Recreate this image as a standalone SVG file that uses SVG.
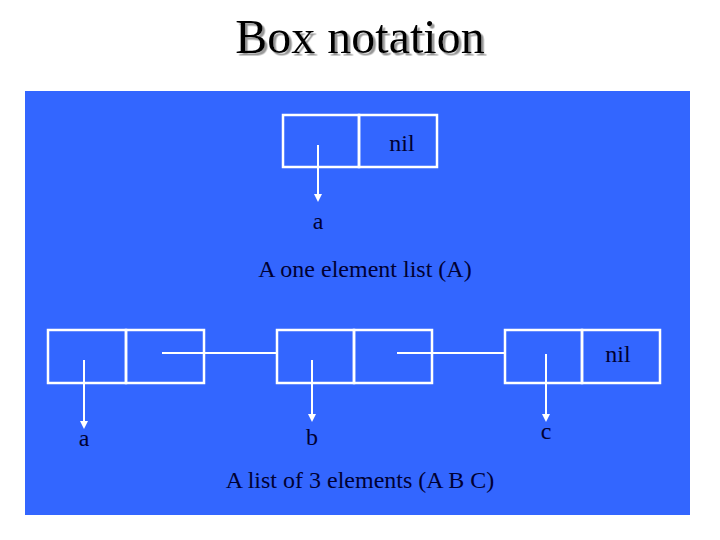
<svg xmlns="http://www.w3.org/2000/svg" width="720" height="540" viewBox="0 0 720 540">
<defs>
<style>
.cell{fill:none;stroke:#ffffff;stroke-width:2.5}
.ln{stroke:#ffffff;stroke-width:2;fill:none}
.t{font-family:'Liberation Serif','DejaVu Serif','Times New Roman',serif;font-size:24px;fill:#000033;text-anchor:middle}
.title{font-family:'Liberation Serif','DejaVu Serif','Times New Roman',serif;font-size:48px;text-anchor:middle;fill:#000000}
</style>
<filter id="sh" x="-10%" y="-20%" width="120%" height="150%">
<feDropShadow dx="2.5" dy="2.5" stdDeviation="0.5" flood-color="#999999" flood-opacity="1"/>
</filter>
<marker id="ah" markerWidth="8" markerHeight="8" refX="4" refY="4" orient="auto" markerUnits="userSpaceOnUse">
<path d="M0,0 L8,4 L0,8 z" fill="#ffffff"/>
</marker>
</defs>
<rect width="720" height="540" fill="#ffffff"/>
<text class="title" x="360" y="53" filter="url(#sh)">Box notation</text>
<rect x="25" y="91" width="665" height="424" fill="#3366ff"/>
<g id="node1">
<rect class="cell" x="283" y="115" width="76" height="52"/>
<rect class="cell" x="359" y="115" width="78" height="52"/>
<text class="t" x="402" y="151">nil</text>
</g>
<g id="node2">
<rect class="cell" x="48" y="330" width="78" height="53"/>
<rect class="cell" x="126" y="330" width="78" height="53"/>
</g>
<g id="node3">
<rect class="cell" x="277" y="330" width="77" height="53"/>
<rect class="cell" x="354" y="330" width="78" height="53"/>
</g>
<g id="node4">
<rect class="cell" x="505" y="330" width="77" height="53"/>
<rect class="cell" x="582" y="330" width="78" height="53"/>
<text class="t" x="618" y="362">nil</text>
</g>
<g id="connectors">
<line class="ln" x1="318" y1="145" x2="318" y2="198" marker-end="url(#ah)"/>
<line class="ln" x1="84" y1="360" x2="84" y2="425" marker-end="url(#ah)"/>
<line class="ln" x1="312" y1="360" x2="312" y2="418" marker-end="url(#ah)"/>
<line class="ln" x1="546" y1="354" x2="546" y2="418" marker-end="url(#ah)"/>
<line class="ln" x1="162" y1="353" x2="277" y2="353"/>
<line class="ln" x1="397" y1="353" x2="505" y2="353"/>
</g>
<g id="labels">
<text class="t" x="318" y="229">a</text>
<text class="t" x="365" y="277">A one element list (A)</text>
<text class="t" x="84" y="446">a</text>
<text class="t" x="312" y="445">b</text>
<text class="t" x="546" y="439">c</text>
<text class="t" x="360" y="488">A list of 3 elements  (A B C)</text>
</g>
</svg>
